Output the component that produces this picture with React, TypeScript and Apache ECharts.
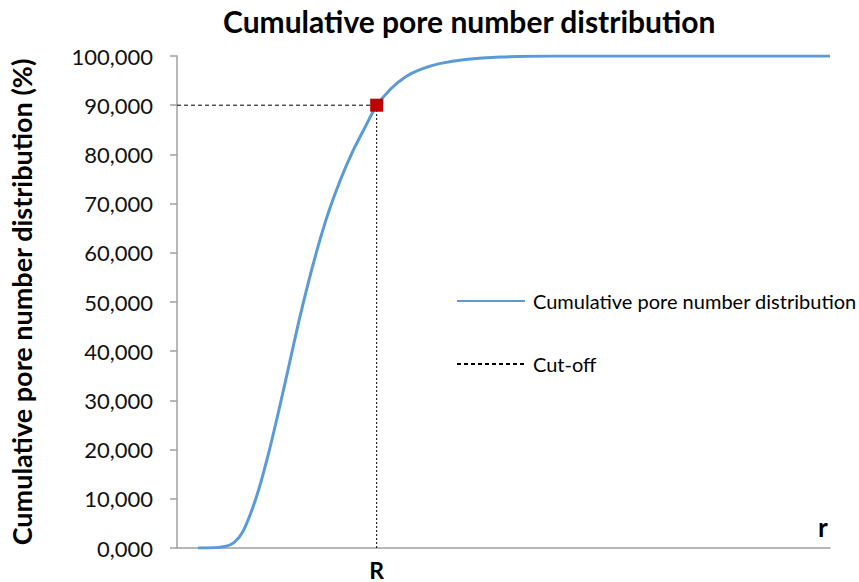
import React, { useEffect, useRef } from "react";
import * as echarts from "echarts";

const curveX = [3.21, 5.5, 7.34, 8.72, 9.94, 11.16, 12.54, 14.07, 15.6, 17.13, 18.65, 20.18, 21.71, 23.24, 25.08, 26.91, 28.75, 30.58, 32.72, 35.02, 37.31, 40.37, 44.19, 49.54, 57.19, 67.89, 100];
const curveY = [0, 0.05, 0.3, 1.1, 3.0, 6.6, 12.0, 19.5, 28.0, 37.0, 46.0, 54.3, 61.8, 68.4, 75.0, 80.6, 85.4, 89.9, 93.3, 95.8, 97.3, 98.5, 99.3, 99.8, 100, 100, 100];
const cutoffX = 30.58;
const cutoffY = 90;
const yTicks = [0, 10, 20, 30, 40, 50, 60, 70, 80, 90, 100];

const FONT = "Lato, 'Open Sans', sans-serif";

export default function App() {
  const ref = useRef<HTMLDivElement>(null);
  useEffect(() => {
    if (!ref.current) return;
    const chart = echarts.init(ref.current, null, { renderer: "svg" });
    const curve = curveX.map((x, i) => [x, curveY[i]]);
    chart.setOption({
      animation: false,
      backgroundColor: "#ffffff",
      textStyle: { fontFamily: FONT },
      title: {
        text: "Cumulative pore number distribution",
        left: 218,
        top: 1,
        textStyle: { fontFamily: FONT, fontWeight: "bold", fontSize: 30, color: "#000" },
      },
      legend: {
        orient: "vertical",
        left: 451,
        top: 286,
        itemWidth: 68,
        itemHeight: 14,
        itemGap: 43,
        itemStyle: { opacity: 0 },
        data: ["Cumulative pore number distribution", "Cut-off"],
        textStyle: { fontFamily: FONT, fontSize: 20, color: "#000", padding: [0, 0, 0, 3] },
      },
      grid: { left: 176, right: 29, top: 56, bottom: 34, containLabel: false },
      xAxis: {
        type: "value",
        min: 0,
        max: 100,
        name: "r",
        nameLocation: "end",
        nameGap: -12,
        nameTextStyle: {
          fontFamily: FONT,
          fontSize: 26,
          fontWeight: "bold",
          color: "#000",
          verticalAlign: "bottom",
          padding: [0, 0, 8, 0],
        },
        axisLine: { show: true, lineStyle: { color: "#A0A0A0", width: 1.5 } },
        axisTick: { show: false },
        splitLine: { show: false },
        axisLabel: {
          show: true,
          customValues: [cutoffX],
          formatter: () => "R",
          fontFamily: FONT,
          fontSize: 23,
          lineHeight: 23,
          fontWeight: "bold",
          color: "#000",
          margin: 10,
        },
      },
      yAxis: {
        type: "value",
        min: 0,
        max: 100,
        interval: 10,
        name: "Cumulative pore number distribution (%)",
        nameLocation: "middle",
        nameGap: 142,
        nameTextStyle: { fontFamily: FONT, fontSize: 27, fontWeight: "bold", color: "#000" },
        axisLine: { show: true, lineStyle: { color: "#A0A0A0", width: 1.5 } },
        axisTick: { show: true, length: 7, lineStyle: { color: "#A0A0A0", width: 1.5 } },
        splitLine: { show: false },
        axisLabel: {
          fontFamily: FONT,
          fontSize: 22,
          color: "#111",
          margin: 24,
          customValues: yTicks,
          formatter: (v: number) => v.toFixed(3).replace(".", ","),
        },
      },
      series: [
        {
          name: "Cumulative pore number distribution",
          type: "line",
          data: curve,
          smooth: 0.3,
          showSymbol: false,
          symbol: "none",
          lineStyle: { color: "#5B9BD5", width: 3 },
          itemStyle: { color: "#5B9BD5" },
          z: 3,
        },
        {
          name: "Cut-off",
          type: "line",
          data: [[0, cutoffY], [cutoffX, cutoffY]],
          symbol: "none",
          lineStyle: { color: "#000", width: 1, type: [4, 3] },
          itemStyle: { color: "#000" },
          z: 2,
        },
        {
          name: "cutoff-vertical",
          type: "line",
          data: [[cutoffX, 0], [cutoffX, cutoffY]],
          symbol: "none",
          lineStyle: { color: "#000", width: 1, type: [2, 2] },
          z: 2,
        },
        {
          name: "cutoff-point",
          type: "scatter",
          data: [[cutoffX, cutoffY]],
          symbol: "rect",
          symbolSize: 13,
          itemStyle: { color: "#C00000", opacity: 1 },
          z: 5,
        },
      ],
    });
    return () => chart.dispose();
  }, []);
  return (
    <div
      ref={ref}
      style={{ position: "fixed", left: 0, top: 0, width: 859, height: 582, background: "#fff" }}
    />
  );
}
